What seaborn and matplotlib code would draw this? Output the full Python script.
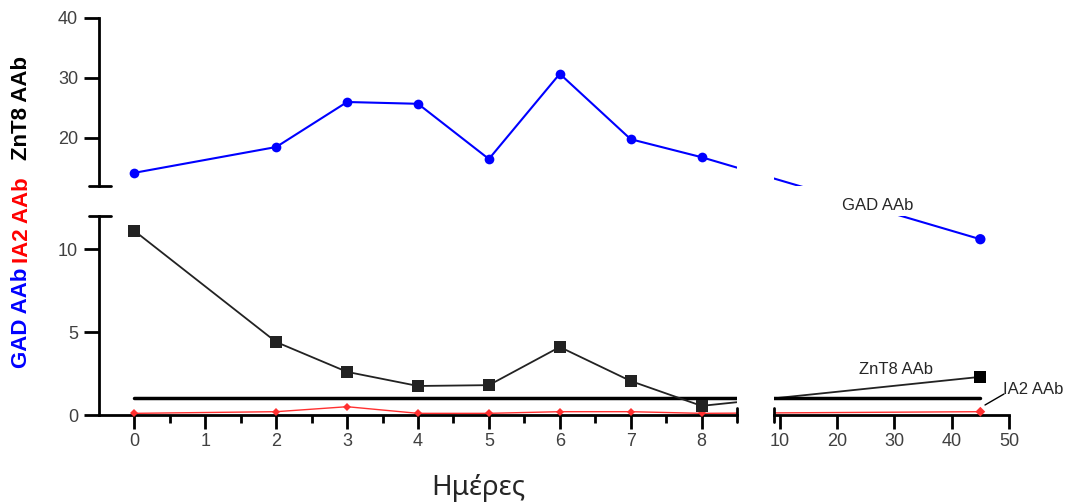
import numpy as np
import matplotlib.pyplot as plt
from matplotlib.lines import Line2D
import seaborn as sns

# values
days_early = [0, 2, 3, 4, 5, 6, 7, 8]
day_late = 45
gad_early = [14.2, 18.5, 26.0, 25.7, 16.5, 30.7, 19.8, 16.8]
gad_late = 10.6
znt8_early = [11.1, 4.4, 2.6, 1.75, 1.8, 4.1, 2.05, 0.55]
znt8_late = 2.3
ia2_early = [0.1, 0.2, 0.5, 0.1, 0.1, 0.2, 0.2, 0.1]
ia2_late = 0.2
cutoff = 1.0
cutoff_days = [0, 45]

left_ticks = [0, 1, 2, 3, 4, 5, 6, 7, 8]
right_ticks = [10, 20, 30, 40, 50]
top_yticks = [20, 30, 40]
bottom_yticks = [0, 5, 10]

sns.set_theme(style="white")
plt.rcParams['font.family'] = ['Liberation Sans', 'DejaVu Sans']

W, H = 1072, 503
fig = plt.figure(figsize=(W / 100, H / 100), dpi=100)


def rect(x0, y0, x1, y1):
    return [x0 / W, 1 - y1 / H, (x1 - x0) / W, (y1 - y0) / H]


ax_tl = fig.add_axes(rect(99, 18, 737, 186))
ax_tr = fig.add_axes(rect(774, 18, 1009, 186))
ax_bl = fig.add_axes(rect(99, 216, 737, 415))
ax_br = fig.add_axes(rect(774, 216, 1009, 415))
axes = [ax_tl, ax_tr, ax_bl, ax_br]

limits = {
    ax_tl: ((-0.5, 8.5), (12, 40)),
    ax_tr: ((9, 50), (12, 40)),
    ax_bl: ((-0.5, 8.5), (0, 12)),
    ax_br: ((9, 50), (0, 12)),
}


def apply_limits():
    for ax, (xl, yl) in limits.items():
        ax.set_xlim(*xl)
        ax.set_ylim(*yl)


apply_limits()

for ax in axes:
    ax.patch.set_alpha(0)
    for s in ax.spines.values():
        s.set_visible(False)
        s.set_linewidth(2)
        s.set_color('black')
    ax.set_xticks([])
    ax.set_yticks([])

ax_tl.spines['left'].set_visible(True)
ax_bl.spines['left'].set_visible(True)
ax_bl.spines['bottom'].set_visible(True)
ax_br.spines['bottom'].set_visible(True)

tick_kw = dict(width=2, color='black', labelsize=13, labelcolor='#404040', direction='out')
ax_tl.set_yticks(top_yticks)
ax_bl.set_yticks(bottom_yticks)
ax_bl.set_xticks(left_ticks)
ax_bl.set_xticks(np.arange(0.5, 8, 1), minor=True)
ax_br.set_xticks(right_ticks)
for ax in (ax_tl, ax_bl):
    ax.tick_params(axis='y', which='major', left=True, length=11, pad=4, **tick_kw)
for ax in (ax_bl, ax_br):
    ax.tick_params(axis='x', which='major', bottom=True, length=10, pad=3, **tick_kw)
ax_bl.tick_params(axis='x', which='minor', bottom=True, length=6, width=2, color='black')

# series inside the first panel
sns.lineplot(x=days_early, y=gad_early, ax=ax_tl, color='#0000FF', lw=1.5,
             marker='o', markersize=7, markeredgewidth=0, legend=False, clip_on=False)
sns.lineplot(x=days_early, y=znt8_early, ax=ax_bl, color='#222222', lw=1.3,
             marker='s', markersize=8, markeredgewidth=0, legend=False, clip_on=False, zorder=4)
sns.lineplot(x=days_early, y=ia2_early, ax=ax_bl, color='#FF3030', lw=1.0,
             marker='D', markersize=4.5, markeredgewidth=0, legend=False, clip_on=False, zorder=3)

# day 45 points
sns.scatterplot(x=[day_late], y=[gad_late], ax=ax_br, color='#0000FF', s=55,
                marker='o', edgecolor='none', clip_on=False)
sns.scatterplot(x=[day_late], y=[znt8_late], ax=ax_br, color='black', s=75,
                marker='s', edgecolor='none', clip_on=False, zorder=4)
sns.scatterplot(x=[day_late], y=[ia2_late], ax=ax_br, color='#FF3030', s=25,
                marker='D', edgecolor='none', clip_on=False, zorder=3)
apply_limits()


def link(ax_a, pa, ax_b, pb, **kw):
    # straight segment in screen space, cut by each panel
    da = ax_a.transData.transform(pa)
    db = ax_b.transData.transform(pb)
    for ax in axes:
        p = ax.transData.inverted().transform(np.vstack([da, db]))
        ax.plot(p[:, 0], p[:, 1], clip_on=True, **kw)


link(ax_tl, (days_early[-1], gad_early[-1]), ax_br, (day_late, gad_late), color='#0000FF', lw=1.5)
link(ax_bl, (days_early[-1], znt8_early[-1]), ax_br, (day_late, znt8_late), color='#222222', lw=1.3)
link(ax_bl, (days_early[-1], ia2_early[-1]), ax_br, (day_late, ia2_late), color='#FF3030', lw=1.0)
link(ax_bl, (cutoff_days[0], cutoff), ax_br, (cutoff_days[1], cutoff), color='black', lw=2.5)
apply_limits()


def fig_line(xs, ys, lw=2):
    fig.add_artist(Line2D([x / W for x in xs], [1 - y / H for y in ys],
                          transform=fig.transFigure, color='black', lw=lw))


# break caps
fig_line([89, 111], [186, 186])
fig_line([89, 111], [216, 216])
fig_line([737, 737], [408, 422])
fig_line([774, 774], [408, 422])

# series labels
fig.text(878 / W, 1 - 205 / H, 'GAD AAb', fontsize=12, ha='center', va='center')
fig.text(896 / W, 1 - 370 / H, 'ZnT8 AAb', fontsize=12, ha='center', va='center')
fig.text(1003 / W, 1 - 389 / H, 'IA2 AAb', fontsize=12, ha='left', va='center')
fig_line([985, 1004], [405, 394], lw=1)

# multicoloured y label
ylab_kw = dict(rotation=90, fontsize=16, fontweight='bold', ha='center', va='center')
fig.text(22 / W, 1 - 318 / H, 'GAD AAb', color='#0000FF', **ylab_kw)
fig.text(22 / W, 1 - 220 / H, 'IA2 AAb', color='#FF0000', **ylab_kw)
fig.text(22 / W, 1 - 108 / H, 'ZnT8 AAb', color='black', **ylab_kw)

fig.text(478 / W, 1 - 495 / H, 'Ημέρες', fontsize=20, family='Noto Sans', ha='center', va='baseline')

fig.savefig('out.png', dpi=100)
